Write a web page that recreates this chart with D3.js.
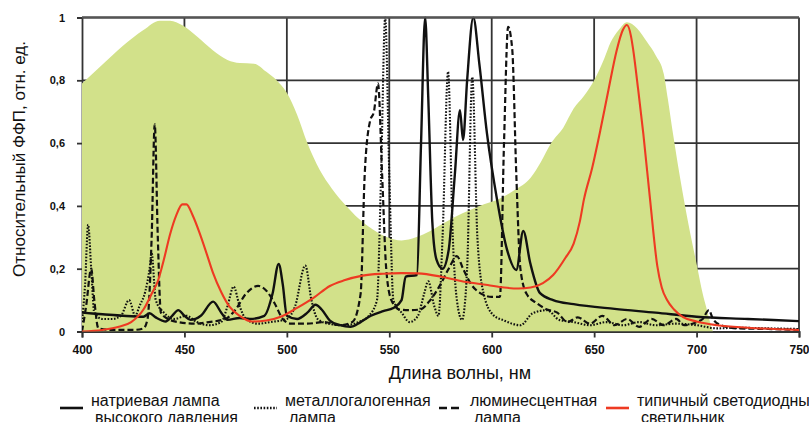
<!DOCTYPE html>
<html>
<head>
<meta charset="utf-8">
<script src="https://cdn.jsdelivr.net/npm/d3@7"></script>
<style>
  body { margin: 0; background: #fff; }
  svg { display: block; }
  text { font-family: "Liberation Sans", Arial, sans-serif; fill: #111; }
</style>
</head>
<body>
<svg id="chart" width="809" height="422"></svg>
<script>
// Wavelength axis (nm) and relative value axis
const xTicks = [400, 450, 500, 550, 600, 650, 700, 750];
const yTicks = [0, 0.2, 0.4, 0.6, 0.8, 1];

// Relative photosynthetic efficiency (filled background curve): [nm, value]
const parCurve = [
  [400,0.79],[405,0.82],[410,0.85],[420,0.91],[430,0.96],[438,0.99],[443,0.99],[449,0.975],
  [456,0.94],[464,0.895],[471,0.865],[477,0.855],[484,0.853],[490,0.827],[495,0.80],[500,0.76],
  [505,0.69],[510,0.60],[516,0.515],[522,0.455],[529,0.40],[535,0.36],[542,0.325],[549,0.30],
  [556,0.29],[563,0.30],[570,0.32],[578,0.35],[586,0.377],[594,0.40],[603,0.42],[611,0.45],
  [619,0.49],[624,0.54],[629,0.60],[635,0.65],[640,0.71],[645,0.75],[650,0.80],[655,0.87],
  [658,0.92],[662,0.96],[666,0.985],[671,0.965],[676,0.92],[680,0.88],[684,0.82],[686,0.74],
  [688.5,0.63],[693,0.45],[697,0.31],[700.3,0.206],[703,0.12],[705,0.07],[707,0.02],[708,0]
];

// High-pressure sodium lamp: [nm, value]
const sodium = [
  [400,0.06],[410,0.055],[420,0.05],[430,0.047],[433,0.058],[436,0.045],[441,0.032],[444,0.05],
  [447,0.068],[450,0.05],[453,0.037],[458,0.05],[464,0.095],[468,0.06],[471,0.037],[477,0.043],
  [482,0.04],[489,0.05],[493,0.12],[496,0.215],[498,0.15],[500,0.05],[505,0.04],[510,0.06],
  [514,0.085],[517,0.07],[521,0.035],[526,0.02],[531,0.015],[536,0.03],[541,0.05],[547,0.065],
  [552,0.075],[556,0.1],[558,0.175],[563.5,0.18],[565.5,0.6],[567.5,1.0],[569,0.75],[571,0.35],
  [573,0.23],[576,0.2],[579,0.26],[582,0.5],[584.5,0.705],[586,0.61],[588,0.8],[591,1.0],
  [594,0.85],[597.7,0.63],[602.6,0.42],[607.5,0.26],[612,0.196],[615.4,0.32],[618.8,0.218],
  [623.6,0.122],[630,0.1],[640,0.087],[660,0.072],[680,0.06],[700,0.047],[725,0.04],[750,0.033]
];

// Metal halide lamp: [nm, value]
const metalHalide = [
  [400,0.03],[401.5,0.15],[403,0.34],[404.5,0.2],[406,0.06],[410,0.04],[415,0.04],[419,0.05],
  [423,0.1],[426,0.05],[428,0.08],[431,0.13],[433,0.2],[434,0.25],[436,0.1],[440,0.06],
  [445,0.04],[451,0.05],[456,0.03],[462,0.02],[468,0.03],[471,0.08],[474,0.143],[477,0.08],
  [480,0.04],[486,0.025],[492,0.03],[500,0.04],[504,0.08],[509,0.21],[512,0.1],[515,0.04],
  [520,0.025],[528,0.02],[535,0.03],[540,0.05],[544,0.1],[546,0.5],[548,1.0],[550,0.5],
  [552,0.1],[556,0.06],[560,0.03],[564,0.05],[567,0.12],[569,0.16],[572,0.08],[574,0.05],
  [576,0.3],[578.7,0.827],[581,0.3],[583,0.1],[585.5,0.037],[588,0.2],[590.5,0.81],[593,0.3],
  [596,0.122],[600.7,0.053],[606,0.035],[614,0.02],[620,0.058],[627,0.068],[633,0.037],
  [640,0.03],[648,0.02],[656,0.03],[664,0.02],[672,0.03],[680,0.02],[690,0.025],[700,0.02],
  [710,0.01],[720,0.012],[735,0.01],[750,0.008]
];

// Fluorescent lamp: [nm, value]
const fluorescent = [
  [400,0.0],[402,0.08],[404.5,0.2],[406,0.1],[408,0.01],[415,0.005],[425,0.005],[430,0.01],
  [432,0.04],[434,0.3],[435.5,0.66],[437,0.3],[438.5,0.06],[442,0.04],[447,0.03],[455,0.025],
  [462,0.03],[470,0.04],[475,0.07],[480,0.12],[486,0.145],[490,0.13],[494,0.09],[498,0.04],
  [502,0.025],[510,0.025],[518,0.03],[526,0.02],[532,0.03],[536,0.12],[538,0.5],[540.6,0.67],
  [542.5,0.7],[544.5,0.79],[546.5,0.5],[548.5,0.2],[551,0.1],[555,0.07],[560,0.068],[565,0.07],
  [570,0.1],[575,0.15],[579,0.2],[583,0.24],[586,0.2],[590,0.15],[595,0.12],[600,0.11],
  [604,0.11],[606,0.6],[608,0.97],[610,0.9],[612,0.5],[614,0.2],[617,0.12],[622,0.09],
  [627,0.07],[632,0.06],[637,0.03],[642,0.045],[648,0.025],[654,0.05],[660,0.02],[666,0.04],
  [672,0.015],[678,0.04],[684,0.02],[690,0.04],[694,0.02],[700,0.03],[703,0.04],[706,0.068],
  [708,0.04],[712,0.02],[720,0.01],[735,0.008],[750,0.005]
];

// Typical LED luminaire: [nm, value]
const ledLuminaire = [
  [400,0],[410,0.005],[418,0.015],[424,0.03],[430,0.07],[434,0.12],[437,0.16],[440,0.23],
  [443,0.31],[446,0.37],[449,0.405],[451,0.405],[454,0.37],[457.6,0.31],[461,0.245],[464,0.186],
  [468,0.125],[472,0.079],[477,0.05],[483,0.032],[490,0.035],[497,0.047],[505,0.075],[513,0.107],
  [521,0.145],[528,0.163],[537,0.178],[547,0.184],[556,0.186],[564,0.185],[575,0.175],[586,0.159],
  [598,0.148],[606,0.140],[613,0.137],[619,0.140],[625,0.154],[630,0.18],[636,0.235],[640,0.28],
  [643,0.35],[645,0.42],[649,0.52],[653,0.64],[657,0.77],[661,0.895],[664,0.96],[666,0.976],
  [668,0.94],[669,0.9],[671.5,0.77],[674,0.63],[677.3,0.42],[680.8,0.21],[683,0.14],[685.6,0.10],
  [689,0.07],[693.4,0.046],[700,0.032],[710,0.02],[725,0.012],[750,0.005]
];

// Legend entries
const legendLabels = [
  ["натриевая лампа", "высокого давления"],
  ["металлогалогенная", "лампа"],
  ["люминесцентная", "лампа"],
  ["типичный светодиодный", "светильник"]
];

const yTitle = "Относительный ФФП, отн. ед.";
const xTitle = "Длина волны, нм";

const svg = d3.select("#chart");
const x = d3.scaleLinear().domain([400, 750]).range([82, 799]);
const y = d3.scaleLinear().domain([0, 1]).range([331.5, 17.5]);

const gridColor = "#333";

// grid (under the filled curve)
const grid = svg.append("g");
grid.selectAll("line.v").data(xTicks.slice(1)).join("line")
  .attr("x1", d => x(d)).attr("x2", d => x(d))
  .attr("y1", y(1)).attr("y2", y(0))
  .attr("stroke", gridColor).attr("stroke-width", 1.8);
grid.selectAll("line.h").data(yTicks.slice(1)).join("line")
  .attr("x1", x(400)).attr("x2", x(750))
  .attr("y1", d => y(d)).attr("y2", d => y(d))
  .attr("stroke", gridColor).attr("stroke-width", 1.8);

// axes
const fmt = d => (d === 0 || d === 1) ? String(d) : d3.format(".1f")(d).replace(".", ",");
const yAxis = svg.append("g").attr("transform", `translate(${x(400)},0)`)
  .call(d3.axisLeft(y).tickValues(yTicks).tickFormat(fmt).tickSize(5).tickPadding(12));
const xAxis = svg.append("g").attr("transform", `translate(0,${y(0)})`)
  .call(d3.axisBottom(x).tickValues(xTicks).tickSize(6).tickPadding(8));
[yAxis, xAxis].forEach(g => {
  g.selectAll("path.domain").attr("stroke", gridColor).attr("stroke-width", 1.8);
  g.selectAll(".tick line").attr("stroke", gridColor).attr("stroke-width", 1.8);
  g.selectAll(".tick text").attr("fill", "#111")
    .style("font-family", '"Liberation Sans", Arial, sans-serif')
    .style("font-weight", "bold");
});
yAxis.selectAll(".tick text").style("font-size", "11px");
xAxis.selectAll(".tick text").style("font-size", "12px");

// clip for plotted data
svg.append("clipPath").attr("id", "plotClip").append("rect")
  .attr("x", x(400)).attr("y", y(1) - 1).attr("width", x(750) - x(400)).attr("height", y(0) - y(1) + 1);

const plot = svg.append("g").attr("clip-path", "url(#plotClip)");

// filled sensitivity curve
plot.append("path").datum(parCurve)
  .attr("fill", "#d2e18a")
  .attr("d", d3.area().x(d => x(d[0])).y0(y(0)).y1(d => y(d[1])).curve(d3.curveMonotoneX));

const line = d3.line().x(d => x(d[0])).y(d => y(d[1])).curve(d3.curveMonotoneX);

const series = [
  { data: metalHalide, stroke: "#111", width: 2.1, dash: "1.6,1.6" },
  { data: fluorescent, stroke: "#111", width: 2.2, dash: "6,3" },
  { data: sodium, stroke: "#111", width: 2.4, dash: null },
  { data: ledLuminaire, stroke: "#ee3a22", width: 2.1, dash: null }
];
series.forEach(s => {
  plot.append("path").datum(s.data)
    .attr("fill", "none").attr("stroke", s.stroke).attr("stroke-width", s.width)
    .attr("stroke-linejoin", "round")
    .attr("stroke-dasharray", s.dash)
    .attr("d", line);
});

// top frame line drawn over the fill
svg.append("line").attr("x1", x(400)).attr("x2", x(750)).attr("y1", y(1)).attr("y2", y(1))
  .attr("stroke", "#555").attr("stroke-width", 1.8);

// axis titles
svg.append("text")
  .attr("transform", `translate(25,159) rotate(-90)`)
  .attr("text-anchor", "middle")
  .style("font-size", "17px")
  .text(yTitle);
svg.append("text")
  .attr("x", 460).attr("y", 379)
  .attr("text-anchor", "middle")
  .style("font-size", "18px")
  .text(xTitle);

// legend
const legendItems = [
  { x: 60, stroke: "#111", dash: null },
  { x: 254, stroke: "#111", dash: "1.6,1.6" },
  { x: 439, stroke: "#111", dash: "8,4" },
  { x: 606, stroke: "#ee3a22", dash: null }
];
const legend = svg.append("g");
legendItems.forEach((it, i) => {
  legend.append("line")
    .attr("x1", it.x).attr("x2", it.x + 23).attr("y1", 408).attr("y2", 408)
    .attr("stroke", it.stroke).attr("stroke-width", 2.6).attr("stroke-dasharray", it.dash);
  legend.append("text").attr("x", it.x + 31).attr("y", 406)
    .style("font-size", "16px").text(legendLabels[i][0]);
  legend.append("text").attr("x", it.x + 35).attr("y", 423)
    .style("font-size", "16px").text(legendLabels[i][1]);
});
</script>
</body>
</html>
